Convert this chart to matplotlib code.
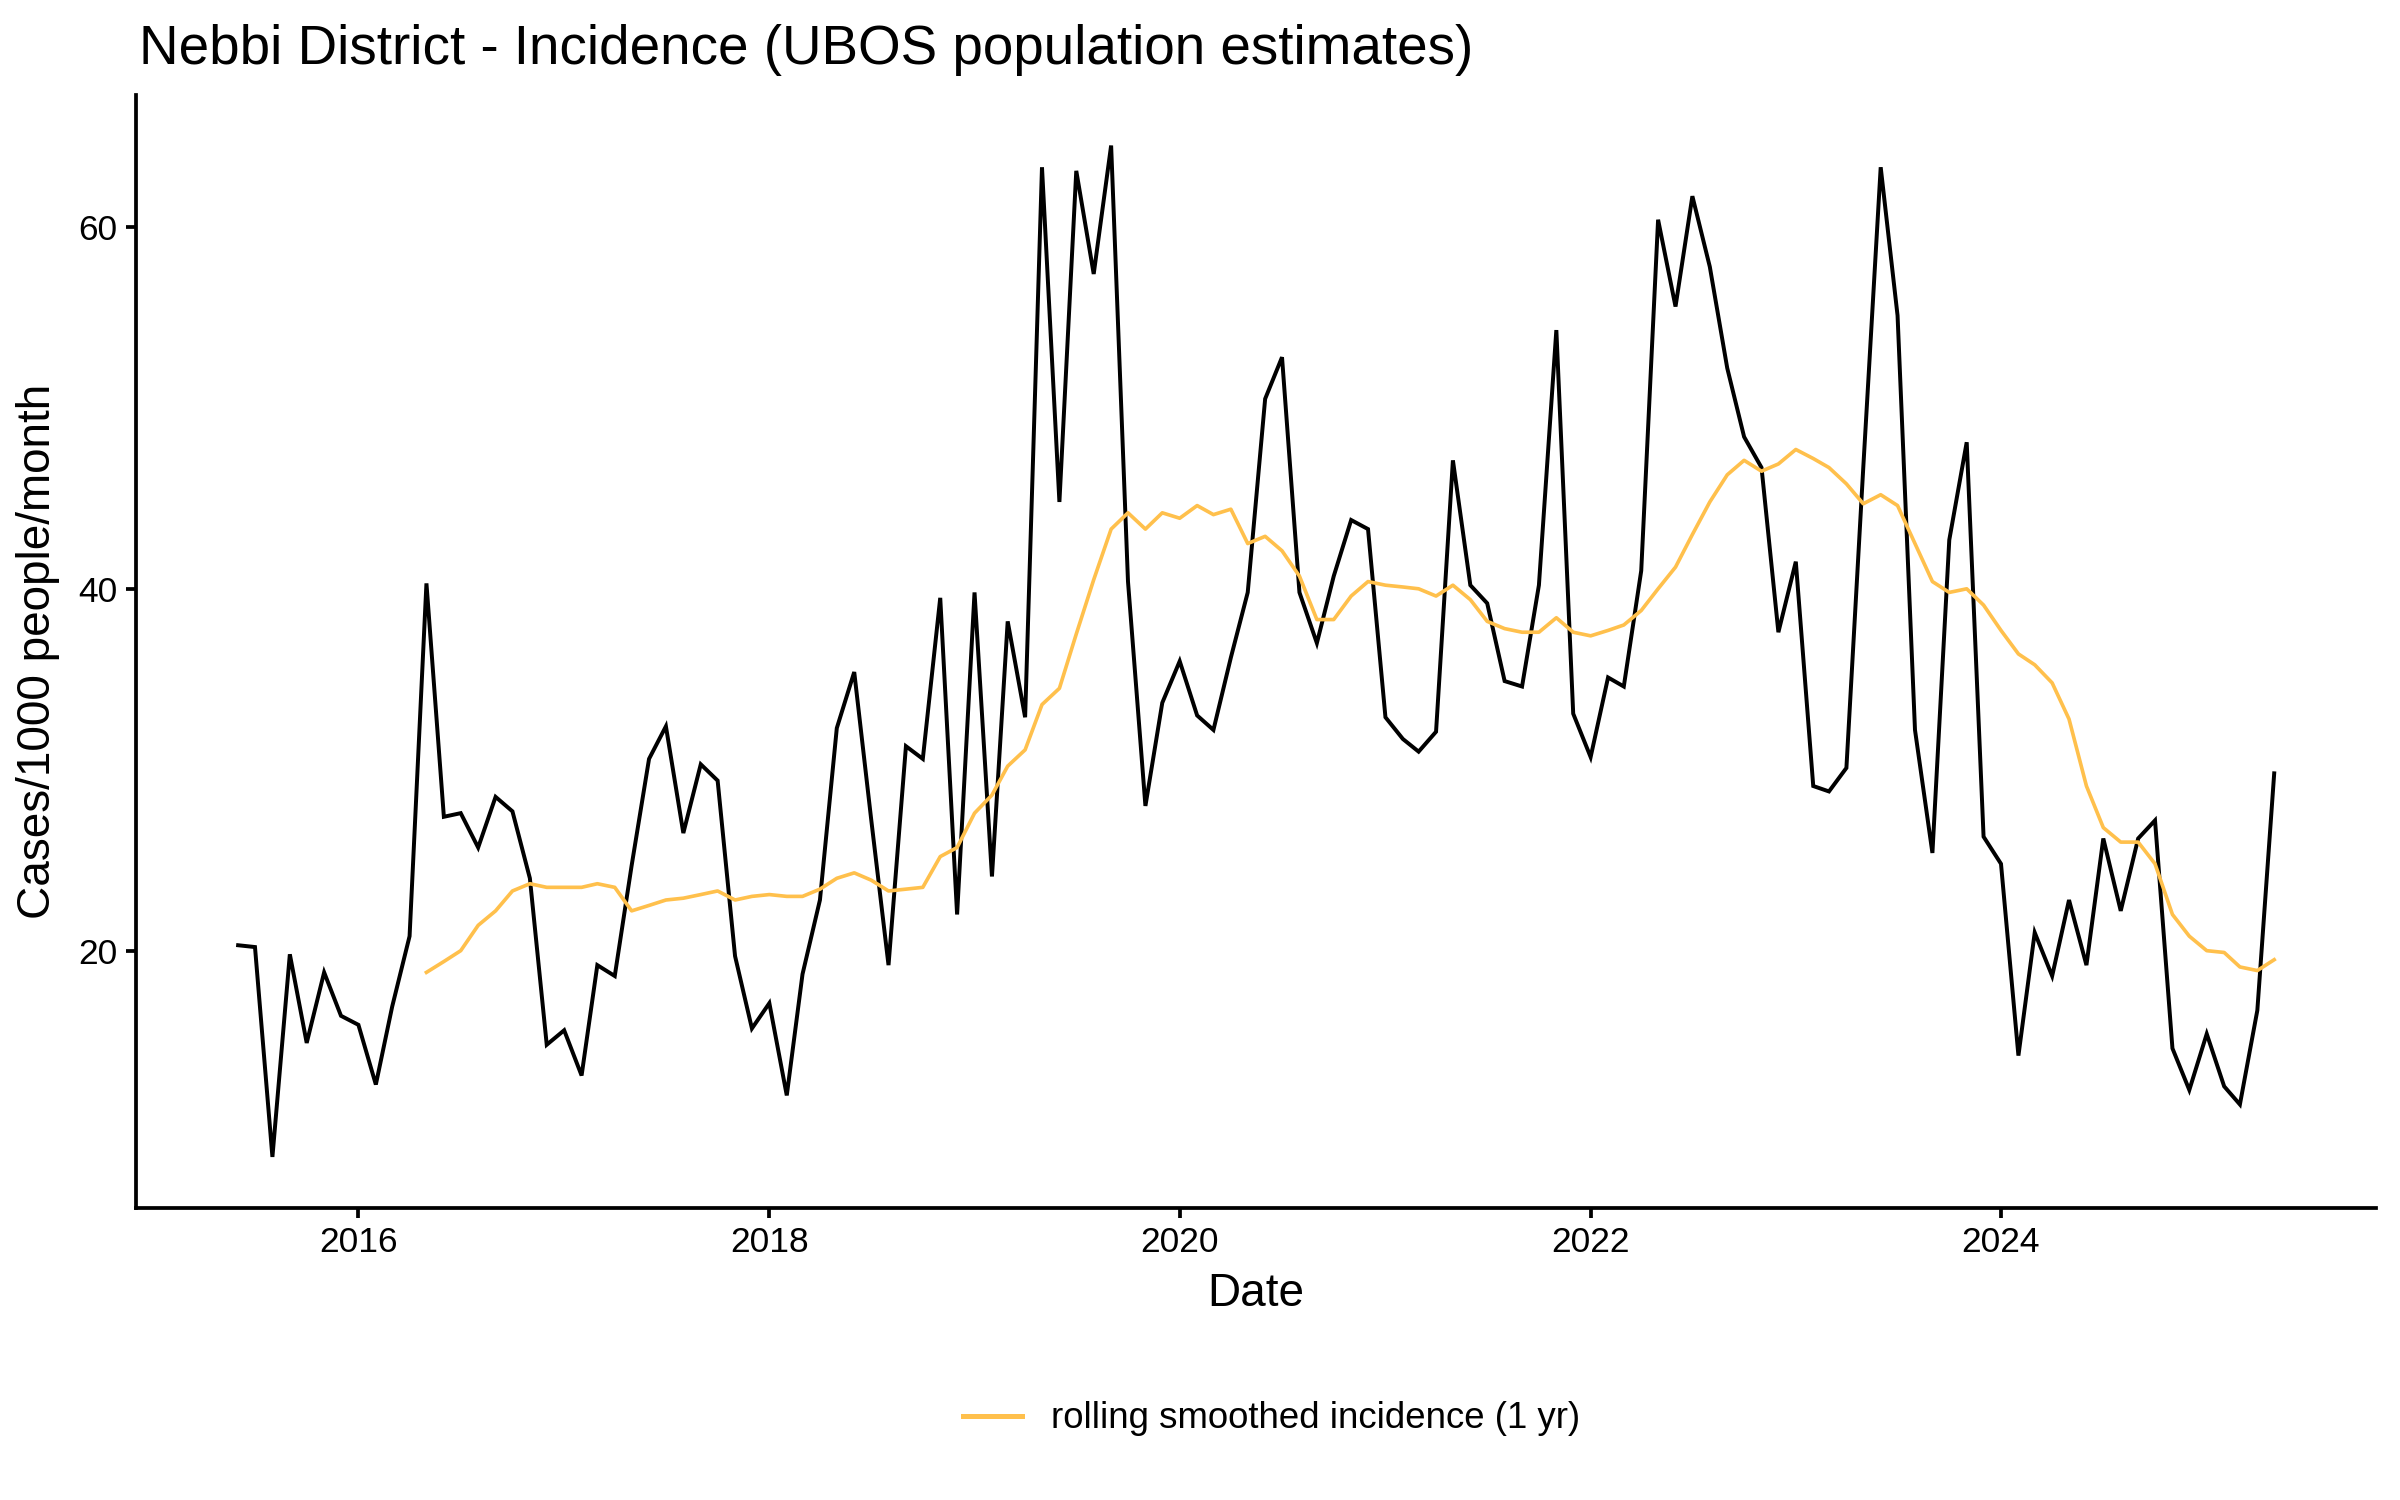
import matplotlib
matplotlib.use("Agg")
import matplotlib.pyplot as plt
import matplotlib.dates as mdates
import numpy as np
import pandas as pd

plt.rcParams['font.family'] = ['Liberation Sans', 'DejaVu Sans']

# Monthly dates 2015-06 .. 2025-05
dates = pd.date_range("2015-06-01", "2025-05-01", freq="MS")

incidence = [
    20.3, 20.2, 8.6, 19.8, 14.9, 18.8, 16.4, 15.9, 12.6, 16.9, 20.8, 40.3,
    27.4, 27.6, 25.7, 28.5, 27.7, 24.0, 14.8, 15.6, 13.1, 19.2, 18.6, 24.7,
    30.6, 32.4, 26.5, 30.3, 29.4, 19.7, 15.7, 17.1, 12.0, 18.7, 22.8, 32.3,
    35.4, 27.3, 19.2, 31.3, 30.6, 39.5, 22.0, 39.8, 24.1, 38.2, 32.9, 63.3,
    44.8, 63.1, 57.4, 64.5, 40.4, 28.0, 33.7, 36.0, 33.0, 32.2, 36.2, 39.8,
    50.5, 52.8, 39.8, 37.0, 40.7, 43.8, 43.3, 32.9, 31.7, 31.0, 32.1, 47.1,
    40.2, 39.2, 34.9, 34.6, 40.2, 54.3, 33.1, 30.7, 35.1, 34.6, 41.0, 60.4,
    55.6, 61.7, 57.8, 52.2, 48.4, 46.7, 37.6, 41.5, 29.1, 28.8, 30.1, 46.7,
    63.3, 55.1, 32.2, 25.4, 42.7, 48.1, 26.3, 24.8, 14.2, 21.0, 18.6, 22.8,
    19.2, 26.2, 22.2, 26.2, 27.2, 14.6, 12.3, 15.4, 12.5, 11.5, 16.7, 29.8,
]

# Rolling smoothed incidence (starts 2016-05)
smooth_dates = pd.date_range("2016-05-01", "2025-05-01", freq="MS")
smoothed = [
    18.8, 19.4, 20.0, 21.4, 22.2, 23.3, 23.7, 23.5, 23.5, 23.5, 23.7, 23.5,
    22.2, 22.5, 22.8, 22.9, 23.1, 23.3, 22.8, 23.0, 23.1, 23.0, 23.0, 23.4,
    24.0, 24.3, 23.9, 23.3, 23.4, 23.5, 25.2, 25.7, 27.6, 28.6, 30.2, 31.1,
    33.6, 34.5, 37.5, 40.5, 43.3, 44.2, 43.3, 44.2, 43.9, 44.6, 44.1, 44.4,
    42.5, 42.9, 42.1, 40.7, 38.3, 38.3, 39.6, 40.4, 40.2, 40.1, 40.0, 39.6,
    40.2, 39.4, 38.2, 37.8, 37.6, 37.6, 38.4, 37.6, 37.4, 37.7, 38.0, 38.8,
    40.0, 41.2, 43.0, 44.8, 46.3, 47.1, 46.5, 46.9, 47.7, 47.2, 46.7, 45.8,
    44.7, 45.2, 44.6, 42.5, 40.4, 39.8, 40.0, 39.1, 37.7, 36.4, 35.8, 34.8,
    32.8, 29.1, 26.8, 26.0, 26.0, 24.8, 22.0, 20.8, 20.0, 19.9, 19.1, 18.9,
    19.5,
]

title = "Nebbi District - Incidence (UBOS population estimates)"
xlabel = "Date"
ylabel = "Cases/1000 people/month"
legend_label = "rolling smoothed incidence (1 yr)"
year_ticks = [2016, 2018, 2020, 2022, 2024]
y_ticks = [20, 40, 60]

fig = plt.figure(figsize=(16, 10), dpi=150)
ax = fig.add_axes([0.0568, 0.195, 0.9332, 0.7417])

ax.plot(dates, incidence, color="black", lw=1.9, solid_joinstyle="miter")
ax.plot(smooth_dates, smoothed, color="#FFC04C", lw=1.75, label=legend_label)

# ggplot-like 5% expansion
x0 = mdates.date2num(dates[0]); x1 = mdates.date2num(dates[-1])
dx = (x1 - x0) * 0.05
ax.set_xlim(x0 - dx, x1 + dx)
ymin, ymax = min(incidence), max(incidence)
dy = (ymax - ymin) * 0.05
ax.set_ylim(ymin - dy, ymax + dy)

ax.set_xticks([mdates.date2num(pd.Timestamp(f"{y}-01-01")) for y in year_ticks])
ax.set_xticklabels([str(y) for y in year_ticks])
ax.set_yticks(y_ticks)
ax.set_yticklabels([str(v) for v in y_ticks])

for s in ["top", "right"]:
    ax.spines[s].set_visible(False)
for s in ["left", "bottom"]:
    ax.spines[s].set_linewidth(1.8)
    ax.spines[s].set_color("black")
ax.tick_params(axis="both", length=5, width=1.8, color="black",
               labelsize=17, labelcolor="black", pad=4)

ax.set_xlabel(xlabel, fontsize=22, labelpad=6)
ax.set_ylabel(ylabel, fontsize=22, labelpad=9)

fig.text(0.058, 0.949, title, fontsize=26.3, ha="left", va="bottom")

leg = fig.legend(loc="center", bbox_to_anchor=(0.53, 0.054), frameon=False,
                 fontsize=17.6, handlelength=1.6, handletextpad=0.8)
for h in leg.get_lines():
    h.set_linewidth(2.4)

fig.savefig("out.png", dpi=150)
